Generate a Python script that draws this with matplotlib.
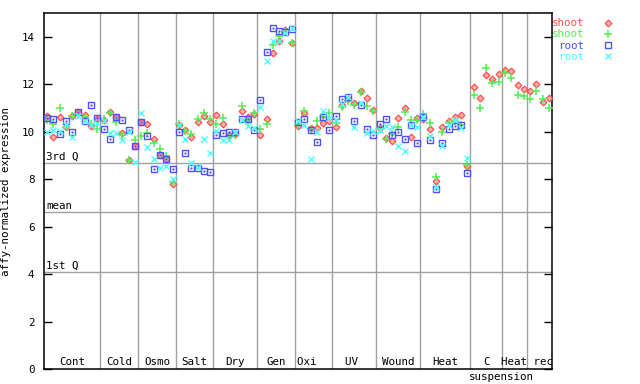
import numpy as np
import matplotlib
matplotlib.use('Agg')
import matplotlib.pyplot as plt

# valores (81 muestras)
shoot_red = [10.66, 9.78, 10.63, 10.20, 10.64, 10.83, 10.70, 10.25, 10.55,
             10.50, 10.83, 10.61, 9.95, 8.81, 9.39,
             10.40, 10.32, 9.71, 9.01, 8.84, 7.79,
             10.30, 10.05, 9.77, 10.40, 10.64, 10.40,
             10.70, 10.32, 9.86, 9.90, 10.87, 10.60, 10.75,
             9.87, 10.54, 13.31, 13.83, 14.27, 13.74,
             10.22, 10.78, 10.15, 10.15, 10.35, 10.43,
             10.19, 11.13, 11.36, 11.20, 11.72, 11.42, 10.91,
             10.15, 9.75, 9.61, 10.57, 11.00, 9.77, 10.57,
             10.55, 10.11, 7.94, 10.19, 10.45, 10.60, 10.72, 8.55,
             11.88, 11.42, 12.39, 12.22, 12.44,
             12.59, 12.56, 11.96, 11.80,
             11.71, 12.00, 11.25, 11.42]
shoot_green = [10.48, 10.32, 11.00, 10.18, 10.66, 10.70, 10.62, 10.32, 10.12,
               10.52, 10.80, 10.40, 9.85, 8.81, 9.65,
               9.81, 9.94, 9.54, 9.27, 8.98, 7.86,
               10.32, 10.03, 9.91, 10.52, 10.78, 10.52,
               10.32, 10.57, 9.80, 9.84, 11.08, 10.43, 10.80,
               10.11, 10.32, 13.66, 14.04, 14.22, 13.74,
               10.30, 10.88, 10.10, 10.43, 10.60, 10.78,
               10.36, 11.05, 11.30, 11.12, 11.67, 11.07, 10.88,
               10.10, 9.69, 9.90, 10.20, 10.84, 10.49, 10.50,
               10.75, 10.35, 8.08, 9.99, 10.38, 10.45, 10.30, 8.58,
               11.56, 11.00, 12.68, 12.05, 12.09,
               12.47, 12.26, 11.56, 11.49,
               11.39, 11.71, 11.39, 11.00]
root_blue = [10.57, 10.53, 9.92, 10.45, 9.98, 10.83, 10.43, 11.12, 10.57,
             10.12, 9.69, 10.61, 10.49, 10.08, 9.39,
             10.40, 9.81, 8.42, 9.01, 8.84, 8.42,
             9.98, 9.10, 8.46, 8.46, 8.35, 8.31,
             9.86, 9.94, 9.98, 9.98, 10.54, 10.54, 10.08,
             11.33, 13.36, 14.37, 14.25, 14.20, 14.34,
             10.39, 10.53, 10.08, 9.56, 10.61, 10.08,
             10.67, 11.37, 11.48, 10.45, 11.12, 10.12, 9.86,
             10.33, 10.53, 9.86, 9.98, 9.69, 10.28, 9.52,
             10.62, 9.65, 7.60, 9.52, 10.10, 10.23, 10.28, 8.25,
             np.nan, np.nan, np.nan, np.nan, np.nan,
             np.nan, np.nan, np.nan, np.nan,
             np.nan, np.nan, np.nan, np.nan]
root_cyan = [10.00, 10.08, 10.01, 10.30, 9.78, 10.68, 10.45, 10.30, 10.36,
             10.45, 9.95, 9.95, 9.65, 10.00, 8.73,
             10.78, 9.35, 8.84, 8.46, 8.56, 8.00,
             10.30, 9.69, 8.70, 8.50, 9.69, 9.12,
             10.04, 9.63, 9.63, 9.98, 10.50, 10.22, 10.15,
             11.04, 12.98, 13.82, 13.80, 14.15, 14.36,
             10.45, 10.29, 8.84, 10.00, 10.88, 10.57,
             10.50, 11.15, 11.45, 10.20, 11.20, 9.94, 10.02,
             10.05, 10.24, 10.21, 9.39, 9.18, 10.28, 10.20,
             10.62, 9.83, 7.65, 9.38, 10.30, 10.50, 10.14, 8.89,
             np.nan, np.nan, np.nan, np.nan, np.nan,
             np.nan, np.nan, np.nan, np.nan,
             np.nan, np.nan, np.nan, np.nan]

# grupos de condiciones (inicio, fin) en indices de muestra
grupos = ['Cont', 'Cold', 'Osmo', 'Salt', 'Dry', 'Gen', 'Oxi  ', 'UV ',
          'Wound', 'Heat', 'C', 'Heat rec']
inicio = [0, 9, 15, 21, 27, 34, 40, 46, 53, 60, 68, 73]
fin = [9, 15, 21, 27, 34, 40, 46, 53, 60, 68, 73, 81]
separadores = [9, 15, 21, 27, 34, 40, 46, 53, 60, 68, 73, 77]

tercer_q = 8.69
media = 6.62
primer_q = 4.09

gris = '#a0a0a0'
fuente = 'DejaVu Sans Mono'
plt.rcParams['font.family'] = fuente

fig = plt.figure(figsize=(6.4, 3.84), dpi=100)
ax = fig.add_axes([44 / 640, 15 / 384, 508 / 640, 356 / 384])

x = np.arange(len(shoot_red)) + 0.5

for s in separadores:
    ax.axvline(s, color=gris, lw=1, zorder=1)
for v, t in [(tercer_q, '3rd Q'), (media, 'mean'), (primer_q, '1st Q')]:
    ax.axhline(v, color=gris, lw=1, zorder=1)
    ax.text(0.3, v + 0.05, t, fontsize=7.8, va='bottom', ha='left', zorder=2)

ax.plot(x, shoot_red, 'D', ms=3.4, mfc='#ffb0b0', mec='#ff5050', mew=0.9,
        label='shoot', zorder=3)
ax.plot(x, shoot_green, '+', ms=5.5, mec='#50f050', mew=1.1,
        label='shoot', zorder=3)
ax.plot(x, root_blue, 's', ms=4.6, mfc='none', mec='#5050ff', mew=1.0,
        label='root', zorder=4)
ax.plot(x, root_blue, 's', ms=1.0, mfc='#5050ff', mec='#5050ff', mew=0.3,
        zorder=4)
ax.plot(x, root_cyan, 'x', ms=4.2, mec='#50ffff', mew=1.0,
        label='root', zorder=5)

# etiquetas de los grupos
for g, a, b in zip(grupos, inicio, fin):
    ax.text((a + b) / 2, 0.08, g, fontsize=7.8, ha='center', va='bottom', zorder=2)
ax.text(fin[10], -0.12, 'suspension', fontsize=7.8, ha='center', va='top',
        clip_on=False)

ax.set_xlim(0, len(shoot_red))
ax.set_ylim(0, 15)
ax.set_yticks(range(0, 15, 2))
ax.set_xticks([])
ax.tick_params(axis='y', direction='in', length=6, width=1, right=True,
               labelsize=7.8, pad=7)
for sp in ax.spines.values():
    sp.set_linewidth(1.1)
ax.set_ylabel('affy-normalized expression', fontsize=7.8)
ax.yaxis.set_label_coords(-0.064, 0.5)

leg = ax.legend(loc='upper left', bbox_to_anchor=(1.0, 0.985), frameon=False,
                markerfirst=False, fontsize=7.8, handlelength=1.0,
                handletextpad=1.7, labelspacing=0.1, borderaxespad=0,
                borderpad=0)
colores = ['#ff5050', '#50f050', '#5050ff', '#50ffff']
for t, c in zip(leg.get_texts(), colores):
    t.set_color(c)

plt.savefig('out.png', dpi=100)
